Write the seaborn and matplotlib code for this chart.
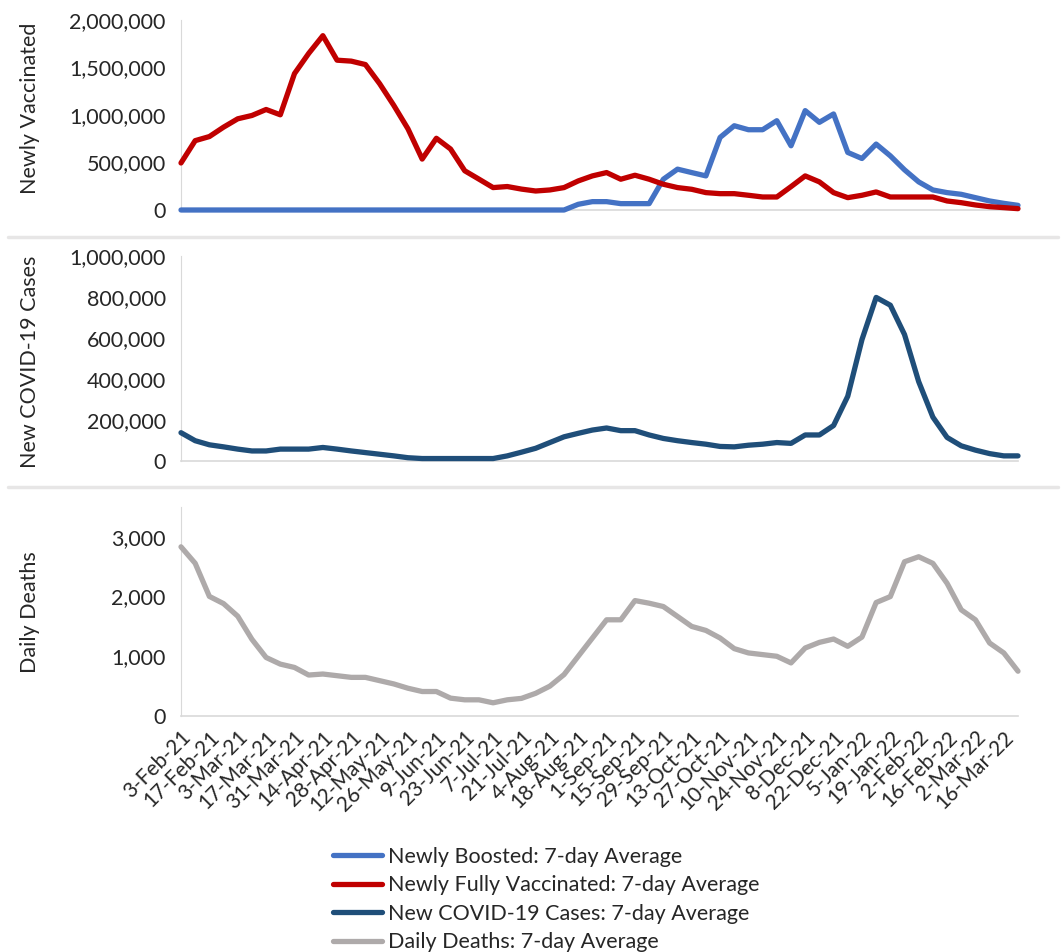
import numpy as np
import pandas as pd
import matplotlib
matplotlib.use("Agg")
import matplotlib.pyplot as plt
import matplotlib.ticker as mticker
from matplotlib.lines import Line2D
import seaborn as sns

# ==========================================
# Data (weekly)
# ==========================================

weeks = [
    "3-Feb-21", "10-Feb-21", "17-Feb-21", "24-Feb-21", "3-Mar-21", "10-Mar-21",
    "17-Mar-21", "24-Mar-21", "31-Mar-21", "7-Apr-21", "14-Apr-21", "21-Apr-21",
    "28-Apr-21", "5-May-21", "12-May-21", "19-May-21", "26-May-21", "2-Jun-21",
    "9-Jun-21", "16-Jun-21", "23-Jun-21", "30-Jun-21", "7-Jul-21", "14-Jul-21",
    "21-Jul-21", "28-Jul-21", "4-Aug-21", "11-Aug-21", "18-Aug-21", "25-Aug-21",
    "1-Sep-21", "8-Sep-21", "15-Sep-21", "22-Sep-21", "29-Sep-21", "6-Oct-21",
    "13-Oct-21", "20-Oct-21", "27-Oct-21", "3-Nov-21", "10-Nov-21", "17-Nov-21",
    "24-Nov-21", "1-Dec-21", "8-Dec-21", "15-Dec-21", "22-Dec-21", "29-Dec-21",
    "5-Jan-22", "12-Jan-22", "19-Jan-22", "26-Jan-22", "2-Feb-22", "9-Feb-22",
    "16-Feb-22", "23-Feb-22", "2-Mar-22", "9-Mar-22", "16-Mar-22", "23-Mar-22",
]

boosted = [
    0, 0, 0, 0, 0, 0, 0, 0, 0, 0,
    0, 0, 0, 0, 0, 0, 0, 0, 0, 0,
    0, 0, 0, 0, 0, 0, 0, 0, 60000, 88000,
    88000, 67000, 67000, 67000, 324000, 430000, 394000, 359000, 764000, 887000,
    845000, 845000, 940000, 676000, 1046000, 923000, 1011000, 606000, 542000, 694000,
    570000, 423000, 296000, 211000, 183000, 165000, 130000, 95000, 70000, 49000,
]

fully_vaccinated = [
    495000, 730000, 773000, 872000, 960000, 995000, 1058000, 1002000, 1436000, 1648000,
    1835000, 1577000, 1567000, 1531000, 1330000, 1101000, 854000, 536000, 755000, 642000,
    413000, 325000, 236000, 247000, 220000, 200000, 211000, 236000, 306000, 359000,
    394000, 324000, 366000, 324000, 271000, 236000, 218000, 183000, 172000, 172000,
    155000, 137000, 137000, 246000, 359000, 296000, 183000, 130000, 155000, 190000,
    137000, 137000, 137000, 137000, 95000, 77000, 53000, 35000, 25000, 14000,
]

cases = [
    138000, 99000, 79000, 69000, 58000, 49000, 49000, 58000, 58000, 58000,
    66000, 58000, 49000, 41000, 33000, 25000, 16000, 12000, 12000, 12000,
    12000, 12000, 12000, 25000, 43000, 62000, 90000, 118000, 135000, 151000,
    161000, 148000, 148000, 127000, 110000, 99000, 90000, 82000, 71000, 69000,
    77000, 82000, 90000, 86000, 127000, 127000, 173000, 316000, 592000, 798000,
    760000, 617000, 387000, 214000, 115000, 74000, 53000, 36000, 25000, 25000,
]

deaths = [
    2833, 2557, 2003, 1882, 1671, 1284, 980, 869, 813, 686,
    703, 675, 647, 647, 592, 537, 465, 410, 410, 299,
    271, 271, 221, 271, 295, 380, 500, 694, 1000, 1306,
    1611, 1611, 1933, 1889, 1833, 1667, 1500, 1433, 1306, 1128,
    1056, 1028, 1000, 889, 1139, 1233, 1289, 1167, 1322, 1900,
    2000, 2583, 2667, 2556, 2222, 1778, 1611, 1222, 1056, 750,
]

df = pd.DataFrame({
    "pos": np.arange(len(weeks)),
    "week": weeks,
    "boosted": boosted,
    "fully": fully_vaccinated,
    "cases": cases,
    "deaths": deaths,
})

# ==========================================
# Style
# ==========================================

sns.set_style("white")
plt.rcParams["font.family"] = ["Lato", "DejaVu Sans"]

c_boost = "#4472C4"
c_full = "#C00000"
c_cases = "#1F4E79"
c_deaths = "#AEAAAA"
axis_gray = "#D9D9D9"
text_col = "#262626"
lw = 3.8

fig = plt.figure(figsize=(10.62, 9.52), dpi=100)

left = 181 / 1062
width = (1018 - 181) / 1062
ax1 = fig.add_axes([left, 1 - 210 / 952, width, 190 / 952])
ax2 = fig.add_axes([left, 1 - 461 / 952, width, 205 / 952])
ax3 = fig.add_axes([left, 1 - 716 / 952, width, 209 / 952])

# ==========================================
# Panels
# ==========================================

sns.lineplot(data=df, x="pos", y="boosted", ax=ax1, color=c_boost, linewidth=lw)
sns.lineplot(data=df, x="pos", y="fully", ax=ax1, color=c_full, linewidth=lw)
sns.lineplot(data=df, x="pos", y="cases", ax=ax2, color=c_cases, linewidth=lw)
sns.lineplot(data=df, x="pos", y="deaths", ax=ax3, color=c_deaths, linewidth=lw)

ax1.set_ylim(0, 2000000)
ax1.set_yticks([0, 500000, 1000000, 1500000, 2000000])
ax2.set_ylim(0, 1000000)
ax2.set_yticks([0, 200000, 400000, 600000, 800000, 1000000])
ax3.set_ylim(0, 3500)
ax3.set_yticks([0, 1000, 2000, 3000])

for ax in [ax1, ax2, ax3]:
    ax.set_xlim(0, len(weeks) - 1)
    ax.yaxis.set_major_formatter(mticker.FuncFormatter(lambda v, p: f"{v:,.0f}"))
    for s in ["top", "right"]:
        ax.spines[s].set_visible(False)
    for s in ["left", "bottom"]:
        ax.spines[s].set_color(axis_gray)
        ax.spines[s].set_zorder(1)
    ax.spines["bottom"].set_linewidth(1.2)
    ax.spines["left"].set_linewidth(0.8)
    ax.set_xticks(df["pos"])
    ax.tick_params(axis="x", direction="out", length=5, width=1, color=axis_gray,
                   labelbottom=False)
    ax.tick_params(axis="y", length=0, labelsize=15.5, labelcolor=text_col, pad=11)
    ax.set_xlabel("")
    ax.set_ylabel("")
    ax.patch.set_alpha(0)
    for ln in ax.lines:
        ln.set_clip_on(False)
        ln.set_zorder(3)
        ln.set_solid_joinstyle("round")

ylabels = ["Newly Vaccinated", "New COVID-19 Cases", "Daily Deaths"]
ylabel_y = [108, 362, 612]
for lab, yy in zip(ylabels, ylabel_y):
    fig.text(30 / 1062, 1 - yy / 952, lab, rotation=90, ha="center", va="center",
             fontsize=15.5, color=text_col)

# x tick labels on bottom panel, every 2nd week
ax3.tick_params(axis="x", labelbottom=True, labelsize=15, labelcolor=text_col, pad=3)
ax3.set_xticklabels([w if i % 2 == 0 else "" for i, w in enumerate(weeks)],
                    rotation=45, ha="right", rotation_mode="anchor")

# separators between the stacked charts
for yy in [237, 487]:
    fig.add_artist(Line2D([8 / 1062, 1058 / 1062], [1 - yy / 952, 1 - yy / 952],
                          color="#E7E6E6", linewidth=2.5))

# ==========================================
# Legend
# ==========================================

handles = [
    Line2D([], [], color=c_boost, linewidth=lw),
    Line2D([], [], color=c_full, linewidth=lw),
    Line2D([], [], color=c_cases, linewidth=lw),
    Line2D([], [], color=c_deaths, linewidth=lw),
]
labels = [
    "Newly Boosted: 7-day Average",
    "Newly Fully Vaccinated: 7-day Average",
    "New COVID-19 Cases: 7-day Average",
    "Daily Deaths: 7-day Average",
]
leg = fig.legend(handles, labels, loc="upper left", bbox_to_anchor=(324 / 1062, 1 - 838 / 952),
                 frameon=False, fontsize=15.5, handlelength=2.3, handletextpad=0.25,
                 labelspacing=0.40, borderaxespad=0)
for t in leg.get_texts():
    t.set_color(text_col)

fig.savefig("out.png", dpi=100)
